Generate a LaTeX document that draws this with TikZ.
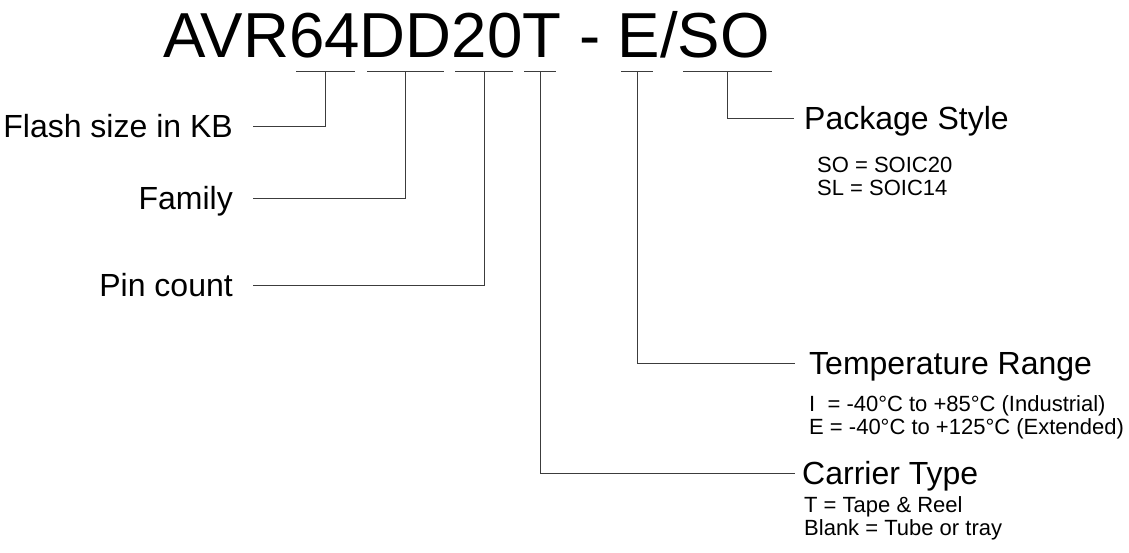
\documentclass[tikz,border=0pt]{standalone}
\usepackage{fontspec}
\setmainfont{Liberation Sans}
\usetikzlibrary{positioning}
\definecolor{leadgray}{RGB}{60,60,60}

\begin{document}
\begin{tikzpicture}[x=1pt,y=-1pt,
  lead/.style={draw=leadgray,line width=0.9pt},
  partno/.style={inner sep=0pt,font=\fontsize{63.6}{63.6}\selectfont},
  field/.style={inner ysep=0pt,text height=23pt,text depth=0pt,font=\fontsize{32}{32}\selectfont},
  note/.style={inner sep=0pt,anchor=base west,font=\fontsize{22}{22}\selectfont}]
  \useasboundingbox (0,0) rectangle (1129,552);
  \node[partno,anchor=base west] (partno) at (163,57) {AVR64DD20T - E/SO};
  % underlines below the part number
  \foreach \n/\xa/\xb in {flash/296/355,family/367/444,pins/455/513,carrier/524/556,temp/621/653,pkg/683/772}{
    \draw[lead] (\xa,71) -- (\xb,71);
    \coordinate (u-\n) at ({(\xa+\xb)/2},71);
  }
  % left side
  \node[field,inner xsep=20pt,anchor=east] (flash) at (253,126) {Flash size in KB};
  \node[field,inner xsep=20pt,anchor=east] (family) at (253,198) {Family};
  \node[field,inner xsep=20pt,anchor=east] (pins) at (253,285) {Pin count};
  % right side
  \node[field,inner xsep=10pt,anchor=west] (pkg) at (794,118) {Package Style};
  \node[field,inner xsep=14pt,anchor=west] (temp) at (795,363) {Temperature Range};
  \node[field,inner xsep=7pt,anchor=west] (carrier) at (795,473) {Carrier Type};
  \node[note] (pkgA) at (817,172) {SO = SOIC20};
  \node[note] (pkgB) at ([yshift=-23.5]pkgA.base west) {SL = SOIC14};
  \node[note] (tempA) at (809,411) {I\ \ = -40°C to +85°C (Industrial)};
  \node[note] (tempB) at ([yshift=-23.5]tempA.base west) {E = -40°C to +125°C (Extended)};
  \node[note] (carA) at (804,512) {T = Tape \& Reel};
  \node[note] (carB) at ([yshift=-23.5]carA.base west) {Blank = Tube or tray};
  % leaders
  \draw[lead] (u-flash) |- (flash);
  \draw[lead] (u-family) |- (family);
  \draw[lead] (u-pins) |- (pins);
  \draw[lead] (u-carrier) |- (carrier);
  \draw[lead] (u-temp) |- (temp);
  \draw[lead] (u-pkg) |- (pkg);
\end{tikzpicture}
\end{document}
